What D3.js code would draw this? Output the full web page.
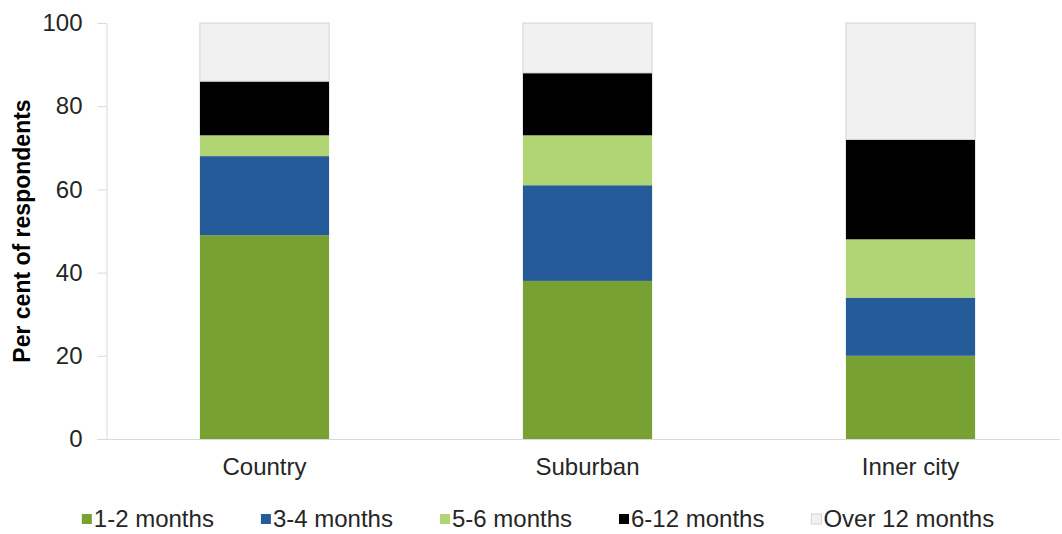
<!DOCTYPE html>
<html>
<head>
<meta charset="utf-8">
<script src="https://cdn.jsdelivr.net/npm/d3@7"></script>
<style>
  html, body { margin: 0; padding: 0; background: #fff; }
  svg { display: block; font-family: "Liberation Sans", Arial, sans-serif; }
</style>
</head>
<body>
<svg id="chart" width="1062" height="534"></svg>
<script>
const categories = ["Country", "Suburban", "Inner city"];
const seriesNames = ["1-2 months", "3-4 months", "5-6 months", "6-12 months", "Over 12 months"];
const months1to2 = [49, 38, 20];
const months3to4 = [19, 23, 14];
const months5to6 = [5, 12, 14];
const months6to12 = [13, 15, 24];
const over12 = [14, 12, 28];
const yTicks = [0, 20, 40, 60, 80, 100];
const yTitle = "Per cent of respondents";

const colors = ["#78a133", "#265b9a", "#b1d574", "#000000", "#f1f1f1"];
const seriesValues = [months1to2, months3to4, months5to6, months6to12, over12];

const rows = categories.map((c, i) => {
  const r = { category: c };
  seriesNames.forEach((s, j) => r[s] = seriesValues[j][i]);
  return r;
});

const svg = d3.select("#chart");
const axisX = 106, plotTop = 23, plotBottom = 439;

const x = d3.scaleBand().domain(categories).range([103, 1072]).paddingInner(0.6).paddingOuter(0.3);
const y = d3.scaleLinear().domain([0, 100]).range([plotBottom, plotTop]);

const stack = d3.stack().keys(seriesNames)(rows);

// baseline
svg.append("line").attr("x1", 97).attr("x2", 1060).attr("y1", plotBottom + 0.5).attr("y2", plotBottom + 0.5)
  .attr("stroke", "#d9d9d9").attr("stroke-width", 1);

// y axis
const yAxis = svg.append("g").attr("transform", `translate(${axisX + 0.5},0)`)
  .call(d3.axisLeft(y).tickValues(yTicks).tickSize(9).tickSizeOuter(0).tickPadding(15));
yAxis.select(".domain").attr("stroke", "#d9d9d9");
yAxis.selectAll(".tick line").attr("stroke", "#d9d9d9");
yAxis.selectAll(".tick text").attr("font-size", 24).attr("fill", "#262626")
  .attr("font-family", "Liberation Sans, Arial, sans-serif");

// bars
svg.append("g").selectAll("g").data(stack).join("g")
  .attr("fill", (d, i) => colors[i])
  .attr("stroke", (d, i) => i === 4 ? "#d4d4d4" : "none")
  .selectAll("rect").data(d => d).join("rect")
  .attr("x", d => x(d.data.category))
  .attr("width", x.bandwidth())
  .attr("y", d => y(d[1]))
  .attr("height", d => y(d[0]) - y(d[1]));

// x axis labels
const xAxis = svg.append("g").attr("transform", `translate(0,${plotBottom})`)
  .call(d3.axisBottom(x).tickSize(0).tickPadding(19));
xAxis.select(".domain").remove();
xAxis.selectAll(".tick text").attr("font-size", 24).attr("fill", "#262626")
  .attr("font-family", "Liberation Sans, Arial, sans-serif");

// y title
svg.append("text")
  .attr("transform", `translate(30,${(plotTop + plotBottom) / 2}) rotate(-90)`)
  .attr("text-anchor", "middle")
  .attr("font-size", 23).attr("font-weight", "bold").attr("fill", "#000")
  .text(yTitle);

// legend
const legend = svg.append("g");
const items = legend.selectAll("g").data(seriesNames).join("g");
items.append("rect").attr("width", 10).attr("height", 10).attr("y", 514)
  .attr("fill", (d, i) => colors[i]).attr("stroke", (d, i) => i === 4 ? "#d4d4d4" : "none");
items.append("text").attr("x", 12).attr("y", 527).attr("font-size", 24).attr("fill", "#262626").text(d => d);
let cx = 0;
const gap = 47;
items.each(function () {
  const g = d3.select(this);
  g.attr("transform", `translate(${cx},0)`);
  cx += 12 + g.select("text").node().getComputedTextLength() + gap;
});
const total = cx - gap;
legend.attr("transform", `translate(${538 - total / 2},0)`);
</script>
</body>
</html>
